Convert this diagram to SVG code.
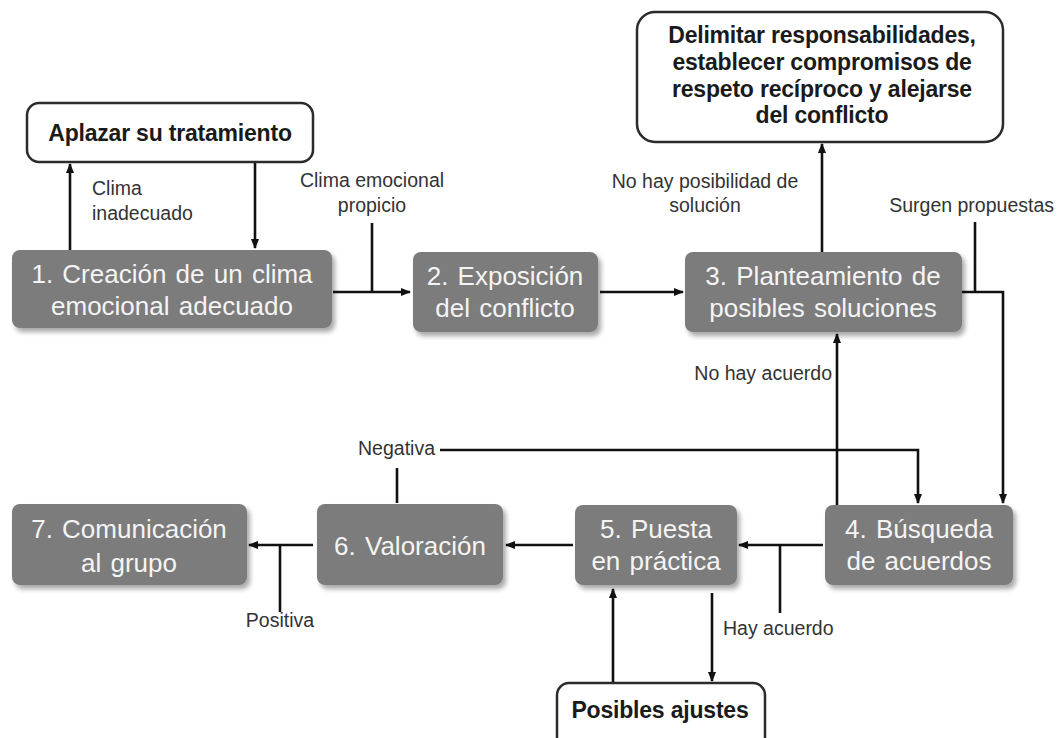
<svg xmlns="http://www.w3.org/2000/svg" width="1057" height="738" viewBox="0 0 1057 738">
  <defs>
    <style>
      .step rect { fill: #7c7c7c; filter: url(#shadow); }
      .step text { font-family: "Liberation Sans", Arial, sans-serif; font-size: 26px; fill: #f4f4f4; text-anchor: middle; word-spacing: 2px; }
      .note rect { fill: #ffffff; stroke: #2b2b2b; stroke-width: 2.5; }
      .note text { font-family: "Liberation Sans", Arial, sans-serif; font-size: 23px; font-weight: bold; fill: #1a1a1a; text-anchor: middle; letter-spacing: -0.2px; }
      .label { font-family: "Liberation Sans", Arial, sans-serif; font-size: 19.5px; fill: #333333; }
      .wire { fill: none; stroke: #111111; stroke-width: 2.6; }
      .arrow { marker-end: url(#head); }
    </style>
    <filter id="shadow" x="-10%" y="-10%" width="125%" height="130%">
      <feGaussianBlur in="SourceAlpha" stdDeviation="2.5"/>
      <feOffset dx="3" dy="4" result="blur"/>
      <feComponentTransfer><feFuncA type="linear" slope="0.35"/></feComponentTransfer>
      <feMerge><feMergeNode/><feMergeNode in="SourceGraphic"/></feMerge>
    </filter>
    <marker id="head" viewBox="0 0 10 10" refX="9" refY="5" markerWidth="4" markerHeight="4" orient="auto" markerUnits="strokeWidth">
      <path d="M0,1 L10,5 L0,9 Z" fill="#111111"/>
    </marker>
  </defs>

  <rect width="1057" height="738" fill="#ffffff"/>

  <!-- connectors -->
  <g id="connectors">
    <path class="wire arrow" d="M70,250 V164"/>
    <path class="wire arrow" d="M255,162 V248"/>
    <path class="wire arrow" d="M333,292 H410"/>
    <path class="wire" d="M372,223 V292"/>
    <path class="wire arrow" d="M600,292 H683"/>
    <path class="wire arrow" d="M822,252 V144"/>
    <path class="wire arrow" d="M962,292 H1003 V503"/>
    <path class="wire" d="M975,222 V292"/>
    <path class="wire arrow" d="M837,505 V334"/>
    <path class="wire arrow" d="M440,450 H918 V503"/>
    <path class="wire" d="M397,468 V503"/>
    <path class="wire arrow" d="M823,545 H739"/>
    <path class="wire" d="M780,545 V613"/>
    <path class="wire arrow" d="M573,545 H506"/>
    <path class="wire arrow" d="M313,545 H249"/>
    <path class="wire" d="M280,545 V612"/>
    <path class="wire arrow" d="M613,683 V589"/>
    <path class="wire arrow" d="M712,593 V681"/>
  </g>

  <!-- connector labels -->
  <g id="labels">
    <text class="label" x="92" y="195">Clima</text>
    <text class="label" x="92" y="220">inadecuado</text>
    <text class="label" x="372" y="187" text-anchor="middle">Clima emocional</text>
    <text class="label" x="372" y="212" text-anchor="middle">propicio</text>
    <text class="label" x="705" y="188" text-anchor="middle">No hay posibilidad de</text>
    <text class="label" x="705" y="212" text-anchor="middle">solución</text>
    <text class="label" x="1054" y="212" text-anchor="end">Surgen propuestas</text>
    <text class="label" x="832" y="380" text-anchor="end">No hay acuerdo</text>
    <text class="label" x="435" y="455" text-anchor="end">Negativa</text>
    <text class="label" x="280" y="627" text-anchor="middle">Positiva</text>
    <text class="label" x="723" y="635">Hay acuerdo</text>
  </g>

  <!-- outcome boxes -->
  <g id="aplazar" class="note">
    <rect x="27" y="103" width="286" height="59" rx="12"/>
    <text x="170" y="141">Aplazar su tratamiento</text>
  </g>
  <g id="delimitar" class="note">
    <rect x="637" y="12" width="366" height="130" rx="18"/>
    <text x="822" y="43">Delimitar responsabilidades,</text>
    <text x="822" y="70">establecer compromisos de</text>
    <text x="822" y="97">respeto recíproco y alejarse</text>
    <text x="822" y="123">del conflicto</text>
  </g>
  <g id="ajustes" class="note">
    <rect x="557" y="683" width="208" height="70" rx="12"/>
    <text x="660" y="718">Posibles ajustes</text>
  </g>

  <!-- process steps -->
  <g id="step1" class="step">
    <rect x="12" y="250" width="320" height="78" rx="8"/>
    <text x="172" y="283">1. Creación de un clima</text>
    <text x="172" y="315">emocional adecuado</text>
  </g>
  <g id="step2" class="step">
    <rect x="413" y="252" width="185" height="80" rx="8"/>
    <text x="505" y="285">2. Exposición</text>
    <text x="505" y="317">del conflicto</text>
  </g>
  <g id="step3" class="step">
    <rect x="685" y="252" width="277" height="80" rx="8"/>
    <text x="823" y="285">3. Planteamiento de</text>
    <text x="823" y="317">posibles soluciones</text>
  </g>
  <g id="step4" class="step">
    <rect x="825" y="505" width="188" height="80" rx="8"/>
    <text x="919" y="538">4. Búsqueda</text>
    <text x="919" y="570">de acuerdos</text>
  </g>
  <g id="step5" class="step">
    <rect x="575" y="505" width="162" height="80" rx="8"/>
    <text x="656" y="538">5. Puesta</text>
    <text x="656" y="570">en práctica</text>
  </g>
  <g id="step6" class="step">
    <rect x="317" y="504" width="186" height="81" rx="8"/>
    <text x="410" y="555">6. Valoración</text>
  </g>
  <g id="step7" class="step">
    <rect x="12" y="504" width="235" height="81" rx="8"/>
    <text x="129" y="538">7. Comunicación</text>
    <text x="129" y="572">al grupo</text>
  </g>
</svg>
